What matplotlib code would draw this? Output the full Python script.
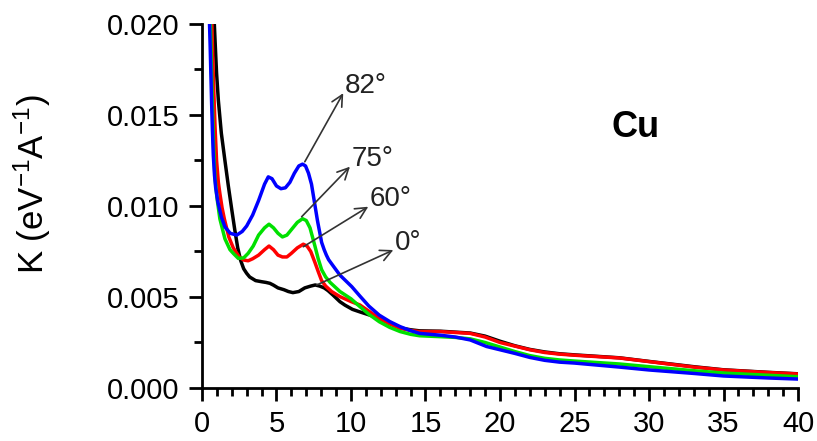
import matplotlib
matplotlib.use("Agg")
import matplotlib.pyplot as plt
from matplotlib.ticker import MultipleLocator, FormatStrFormatter

plt.rcParams['font.family'] = ['Liberation Sans', 'DejaVu Sans']
plt.rcParams['mathtext.fontset'] = 'custom'
plt.rcParams['mathtext.rm'] = 'Liberation Sans'
plt.rcParams['mathtext.it'] = 'Liberation Sans:italic'

# Energy-loss function K for Cu at several incidence angles
x_0 = [0.83, 0.90, 0.98, 1.10, 1.30, 1.54, 1.77, 2.00, 2.20, 2.40, 2.60,
       2.80, 3.00, 3.20, 3.60, 4.00, 4.30, 4.56, 4.80, 5.10, 5.50, 5.80,
       6.10, 6.50, 6.90, 7.30, 7.60, 7.90, 8.20, 8.46, 8.80, 9.26, 9.60,
       10.10, 10.60, 11.20, 11.90, 12.60, 13.30, 14.00, 14.60, 16.00, 17.00,
       18.00, 19.00, 20.00, 21.00, 22.00, 23.00, 24.00, 25.00, 28.00, 30.00,
       33.00, 35.00, 38.00, 40.00]
k_0 = [0.0200, 0.0187, 0.0173, 0.0158, 0.0140, 0.0125, 0.0111, 0.0098,
       0.0087, 0.0077, 0.0070, 0.00655, 0.0063, 0.0061, 0.0059, 0.00584,
       0.0058, 0.00575, 0.00565, 0.0055, 0.0054, 0.0053, 0.00524, 0.0053,
       0.0055, 0.0056, 0.00566, 0.0056, 0.0055, 0.00535, 0.0051, 0.00474,
       0.00455, 0.00432, 0.00418, 0.00402, 0.00384, 0.00355, 0.0033, 0.0032,
       0.00314, 0.00312, 0.00307, 0.00302, 0.00285, 0.00257, 0.00232,
       0.00212, 0.00198, 0.00188, 0.00182, 0.00166, 0.00146, 0.00117, 0.001,
       0.00086, 0.00078]

x_60 = [0.65, 0.72, 0.80, 0.88, 0.98, 1.10, 1.20, 1.35, 1.50, 1.80, 2.10,
        2.50, 2.80, 3.10, 3.40, 3.80, 4.20, 4.50, 4.80, 5.10, 5.40, 5.70,
        6.00, 6.40, 6.80, 7.05, 7.30, 7.58, 7.80, 8.03, 8.30, 8.70, 9.26,
        10.00, 10.60, 11.20, 11.90, 12.60, 13.30, 14.00, 14.60, 16.00, 17.00,
        18.00, 19.00, 20.00, 21.00, 22.00, 23.00, 24.00, 25.00, 28.00, 30.00,
        33.00, 35.00, 38.00, 40.00]
k_60 = [0.0205, 0.0183, 0.0162, 0.0143, 0.0125, 0.0113, 0.0107, 0.0099,
        0.0093, 0.0083, 0.0077, 0.0072, 0.00703, 0.00699, 0.0071, 0.0073,
        0.0076, 0.0078, 0.0076, 0.0073, 0.0072, 0.0072, 0.0074, 0.0077,
        0.0079, 0.0078, 0.0075, 0.0069, 0.0064, 0.0059, 0.0056, 0.0053,
        0.00502, 0.00475, 0.00456, 0.00422, 0.00383, 0.00352, 0.00328,
        0.00316, 0.0031, 0.0031, 0.00305, 0.0030, 0.0028, 0.0025, 0.0023,
        0.0021, 0.00195, 0.00186, 0.0018, 0.00165, 0.00145, 0.00115, 0.00099,
        0.00085, 0.00077]

x_75 = [0.55, 0.62, 0.70, 0.78, 0.87, 1.00, 1.20, 1.54, 1.88, 2.10, 2.44,
        2.80, 3.10, 3.44, 3.80, 4.20, 4.50, 4.80, 5.10, 5.40, 5.70, 6.00,
        6.40, 6.75, 7.00, 7.25, 7.58, 7.80, 8.03, 8.30, 8.60, 9.26, 10.00,
        10.60, 11.20, 11.90, 12.60, 13.30, 14.00, 14.60, 16.00, 17.00, 18.00,
        19.00, 20.00, 21.00, 22.00, 23.00, 24.00, 25.00, 28.00, 30.00, 33.00,
        35.00, 38.00, 40.00]
k_75 = [0.0205, 0.0180, 0.0155, 0.0133, 0.0116, 0.0105, 0.0093, 0.0082,
        0.0076, 0.0074, 0.00712, 0.00715, 0.0074, 0.0078, 0.0084, 0.0088,
        0.0090, 0.0088, 0.0085, 0.0083, 0.0084, 0.0087, 0.0091, 0.0093,
        0.0092, 0.0088, 0.0078, 0.0071, 0.0065, 0.0061, 0.0058, 0.0053,
        0.0049, 0.00447, 0.00405, 0.00364, 0.00333, 0.0031, 0.00295, 0.00287,
        0.00282, 0.00278, 0.0027, 0.0025, 0.00225, 0.0020, 0.00178, 0.00163,
        0.00154, 0.00148, 0.00132, 0.00117, 0.00095, 0.00082, 0.0007, 0.00062]

x_82 = [0.49, 0.55, 0.60, 0.65, 0.70, 0.76, 0.84, 0.92, 1.07, 1.30, 1.54,
        1.90, 2.33, 2.70, 3.00, 3.40, 3.80, 4.20, 4.45, 4.70, 5.00, 5.30,
        5.60, 5.90, 6.20, 6.50, 6.75, 6.95, 7.15, 7.35, 7.55, 7.75, 8.03,
        8.20, 8.35, 8.50, 8.90, 9.26, 10.05, 10.60, 11.20, 11.90, 12.60,
        13.30, 14.00, 14.60, 16.00, 17.00, 18.00, 19.10, 20.00, 21.00, 22.00,
        23.00, 24.00, 25.00, 28.00, 30.00, 33.00, 35.00, 38.00, 40.00]
k_82 = [0.0205, 0.0188, 0.0172, 0.0156, 0.0142, 0.0128, 0.0117, 0.0110,
        0.0102, 0.0094, 0.00885, 0.0085, 0.0084, 0.0086, 0.0089, 0.0095,
        0.0103, 0.0112, 0.0116, 0.0115, 0.0111, 0.01095, 0.0110, 0.0113,
        0.0118, 0.0122, 0.0123, 0.0122, 0.0118, 0.0112, 0.0102, 0.0092,
        0.0080, 0.0076, 0.0073, 0.00705, 0.0066, 0.0062, 0.00557, 0.00505,
        0.0045, 0.0040, 0.00365, 0.00337, 0.00315, 0.0030, 0.0029, 0.0028,
        0.00264, 0.00228, 0.0021, 0.0019, 0.00168, 0.00152, 0.00142, 0.00137,
        0.00115, 0.00099, 0.0008, 0.00066, 0.00055, 0.00049]

series = [
    ("0°", x_0, k_0, "#000000"),
    ("60°", x_60, k_60, "#ff0000"),
    ("75°", x_75, k_75, "#00e000"),
    ("82°", x_82, k_82, "#0000ff"),
]

# arrow start (on curve), arrow tip, label for each angle
arrows = [
    ("82°", (6.9, 0.01243), (9.48, 0.0162)),
    ("75°", (6.69, 0.00941), (9.93, 0.01216)),
    ("60°", (6.8, 0.00776), (11.16, 0.00996)),
    ("0°", (7.7, 0.00566), (12.84, 0.00758)),
]

fig = plt.figure(figsize=(8.17, 4.41), dpi=100)
ax = fig.add_axes([0.2472, 0.1202, 0.7296, 0.8254])

for name, xs, ks, col in series:
    ax.plot(xs, ks, color=col, lw=2.5, solid_joinstyle='round',
            solid_capstyle='round')

for name, start, tip in arrows:
    ax.annotate("", xy=tip, xytext=start,
                arrowprops=dict(arrowstyle="->", color="#333333", lw=1.2,
                                mutation_scale=20, shrinkA=0, shrinkB=0))
    ax.text(tip[0] + 0.1, tip[1] + 0.0004, name, fontsize=20,
            color="#222222", ha="left", va="center")

ax.text(29.1, 0.0143, "Cu", fontsize=26, fontweight="bold", ha="center",
        va="center")

ax.set_xlim(0, 40)
ax.set_ylim(0, 0.020)
ax.xaxis.set_major_locator(MultipleLocator(5))
ax.xaxis.set_minor_locator(MultipleLocator(1))
ax.yaxis.set_major_locator(MultipleLocator(0.005))
ax.yaxis.set_minor_locator(MultipleLocator(0.0025))
ax.yaxis.set_major_formatter(FormatStrFormatter('%.3f'))

for s in ("top", "right"):
    ax.spines[s].set_visible(False)
for s in ("left", "bottom"):
    ax.spines[s].set_linewidth(2.0)

ax.tick_params(which="major", direction="out", length=9.5, width=2.0,
               labelsize=21)
ax.tick_params(axis="y", which="major", pad=7)
ax.tick_params(axis="x", which="major", pad=6)
ax.tick_params(which="minor", direction="out", length=5.5, width=2.0)

ax.set_ylabel("K (eV$^{-1}$A$^{-1}$)", fontsize=25)
ax.yaxis.set_label_coords(-0.25, 0.56)

fig.savefig("out.png", dpi=100)
